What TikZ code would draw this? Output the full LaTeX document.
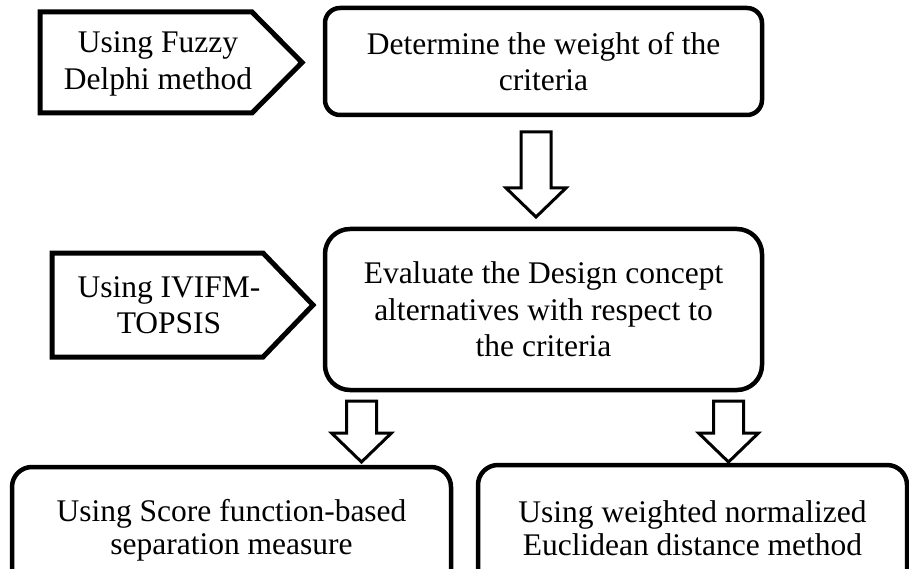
\documentclass[tikz,border=0pt]{standalone}
\usepackage{fontspec}
\setmainfont{Liberation Serif}
\tikzset{
	box/.style={draw, line width=4.5pt, rounded corners=#1, align=center, inner sep=0pt},
	tag/.style={draw, line width=5pt, line join=miter},
	pics/hollow/.style={code={
		\draw[line width=3pt, line join=miter] (-15,0) -- (15,0) -- (15,#1) -- (30,#1) -- (0,#1+29) -- (-30,#1) -- (-15,#1) -- cycle;
	}}
}
\begin{document}
\begin{tikzpicture}[x=1pt, y=-1pt, line join=round, font=\fontsize{31.5}{36.5}\selectfont]
	\clip (0,0) rectangle (909,569);
	\coordinate (1) at (40,12);
	\coordinate (2) at (252,12);
	\coordinate (3) at (302,62.5);
	\coordinate (4) at (252,113);
	\coordinate (5) at (40,113);
	\coordinate (6) at (52,253);
	\coordinate (7) at (263,253);
	\coordinate (8) at (313,305);
	\coordinate (9) at (263,357);
	\coordinate (10) at (52,357);
	\draw[tag] (1) -- (2) -- (3) -- (4) -- (5) -- cycle; % fuzzy delphi
	\draw[tag] (6) -- (7) -- (8) -- (9) -- (10) -- cycle; % topsis
	\node[align=center] (fuzzy) at (158,64) {Using Fuzzy\\Delphi method};
	\node[align=center] (topsis) at (169,305) {Using IVIFM-\\TOPSIS};
	\node[box=15pt, minimum width=437pt, minimum height=107pt] (weight) at (543.5,61.5) {Determine the weight of the\\criteria};
	\node[box=25pt, minimum width=437pt, minimum height=161pt] (evaluate) at (543.5,309.5) {Evaluate the Design concept\\alternatives with respect to\\the criteria};
	\node[box=20pt, minimum width=439pt, minimum height=126pt, font=\fontsize{31.5}{33}\selectfont] (score) at (231.5,530) {Using Score function-based\\separation measure};
	\node[box=20pt, minimum width=429pt, minimum height=126pt, font=\fontsize{31.5}{33}\selectfont] (euclid) at (692.5,528) {Using weighted normalized\\Euclidean distance method};
	\coordinate (a1) at (536,132);
	\coordinate (a2) at (361.5,401);
	\coordinate (a3) at (728.5,401);
	\pic at (a1) {hollow=56};
	\pic at (a2) {hollow=32};
	\pic at (a3) {hollow=32};
\end{tikzpicture}
\end{document}
